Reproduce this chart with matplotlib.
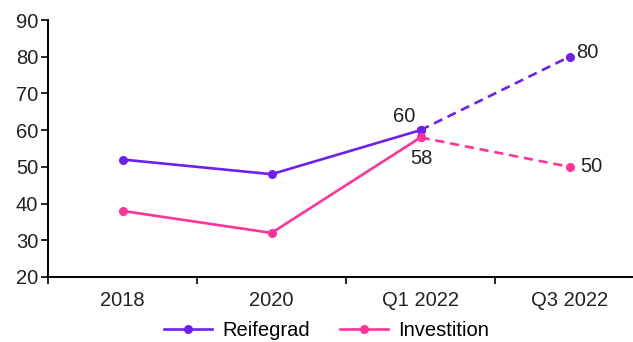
import matplotlib.pyplot as plt

plt.rcParams['font.family'] = ['Liberation Sans', 'DejaVu Sans']

# Daten
categories = ["2018", "2020", "Q1 2022", "Q3 2022"]
reifegrad = [52, 48, 60, 80]
investition = [38, 32, 58, 50]

purple = "#7020EE"
pink = "#FF3399"
fs = 14.5

fig = plt.figure(figsize=(6.33, 3.42), dpi=100)
ax = fig.add_axes([48 / 633, 1 - 277 / 342, 596 / 633, 257 / 342])

x = list(range(len(categories)))

# durchgezogen bis Q1 2022, gestrichelt danach
ax.plot(x[:3], reifegrad[:3], color=purple, lw=1.9, marker="o", ms=5.5, label="Reifegrad")
ax.plot(x[2:], reifegrad[2:], color=purple, lw=1.9, ls=(0, (3.5, 2.2)), marker="o", ms=5.5)
ax.plot(x[:3], investition[:3], color=pink, lw=1.9, marker="o", ms=5.5, label="Investition")
ax.plot(x[2:], investition[2:], color=pink, lw=1.9, ls=(0, (3.5, 2.2)), marker="o", ms=5.5)

# Beschriftungen
ax.annotate(str(reifegrad[2]), (x[2], reifegrad[2]), xytext=(-12, 10), textcoords="offset points",
            ha="center", va="center", fontsize=fs, color="#222222")
ax.annotate(str(investition[2]), (x[2], investition[2]), xytext=(1, -15), textcoords="offset points",
            ha="center", va="center", fontsize=fs, color="#222222")
ax.annotate(str(reifegrad[3]), (x[3], reifegrad[3]), xytext=(5, 3), textcoords="offset points",
            ha="left", va="center", fontsize=fs, color="#222222")
ax.annotate(str(investition[3]), (x[3], investition[3]), xytext=(8, 0), textcoords="offset points",
            ha="left", va="center", fontsize=fs, color="#222222")

ax.set_xlim(-0.5, 3.5)
ax.set_ylim(20, 90)
ax.set_yticks(range(20, 91, 10))
ax.set_xticks([i - 0.5 for i in x])
ax.set_xticklabels([])
ax.set_xticks(x, minor=True)
ax.set_xticklabels(categories, minor=True)
ax.tick_params(axis="x", which="minor", length=0, labelsize=fs, colors="#222222", pad=10)
ax.tick_params(axis="x", which="major", length=5, width=1.2, direction="out")
ax.tick_params(axis="y", length=5, width=1.2, labelsize=fs, labelcolor="#222222", pad=2)

for side in ["top", "right"]:
    ax.spines[side].set_visible(False)
for side in ["left", "bottom"]:
    ax.spines[side].set_linewidth(1.4)
    ax.spines[side].set_color("black")

fig.legend(loc="center", bbox_to_anchor=(0.516, 0.034), ncol=2, frameon=False,
           fontsize=fs, handlelength=2.4, columnspacing=1.5, handletextpad=0.5)

fig.savefig("out.png", dpi=100)
